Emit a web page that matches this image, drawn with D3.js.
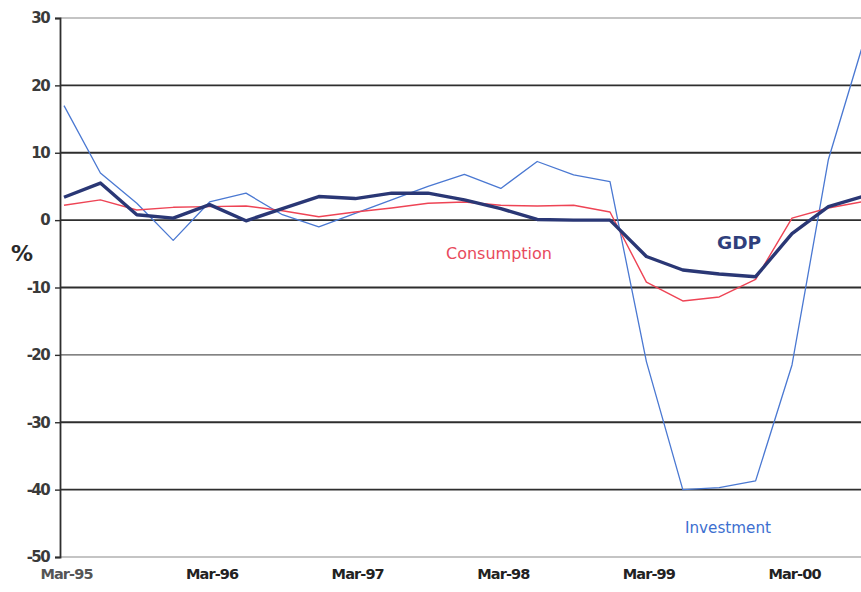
<!DOCTYPE html>
<html>
<head>
<meta charset="utf-8">
<script src="https://cdn.jsdelivr.net/npm/d3@7"></script>
<style>
  html, body { margin: 0; padding: 0; background: #fff; }
  svg { display: block; }
  text { font-family: "DejaVu Sans", Verdana, sans-serif; }
</style>
</head>
<body>
<svg id="chart" width="861" height="592"></svg>
<script>
// Quarterly growth, % change year on year
const quarters = [
  "Mar-95","Jun-95","Sep-95","Dec-95",
  "Mar-96","Jun-96","Sep-96","Dec-96",
  "Mar-97","Jun-97","Sep-97","Dec-97",
  "Mar-98","Jun-98","Sep-98","Dec-98",
  "Mar-99","Jun-99","Sep-99","Dec-99",
  "Mar-00","Jun-00","Sep-00"
];
const gdp = [3.4, 5.5, 0.8, 0.3, 2.3, -0.1, 1.7, 3.5, 3.2, 4.0, 4.0, 3.0,
             1.7, 0.1, 0.0, 0.0, -5.4, -7.4, -8.0, -8.4, -2.0, 2.0, 3.6];
const consumption = [2.2, 3.0, 1.5, 1.9, 2.0, 2.1, 1.4, 0.5, 1.2, 1.8, 2.5, 2.7,
                     2.2, 2.1, 2.2, 1.2, -9.2, -12.0, -11.4, -8.8, 0.3, 1.8, 2.8];
const investment = [17.0, 7.0, 2.5, -3.0, 2.7, 4.0, 0.8, -1.0, 1.0, 3.0, 5.0, 6.8,
                    4.7, 8.7, 6.7, 5.7, -21.0, -40.0, -39.7, -38.7, -21.5, 9.0, 27.0];
const yTicks = [30, 20, 10, 0, -10, -20, -30, -40, -50];
const xLabels = ["Mar-95", "Mar-96", "Mar-97", "Mar-98", "Mar-99", "Mar-00"];

const svg = d3.select("#chart");
const W = 861, H = 592;
const axisX = 60;

const x = d3.scalePoint().domain(quarters).range([64, 864.8]);
const y = d3.scaleLinear().domain([-50, 30]).range([557, 18]);

// horizontal gridlines
const gridStyle = v => {
  if (v === 30 || v === -50) return { c: "#8a8a8a", w: 1.2 };
  if (v === -20) return { c: "#5a5a5a", w: 1.4 };
  return { c: "#2e2e2e", w: 1.8 };
};
svg.append("g").selectAll("line").data(yTicks).join("line")
  .attr("x1", axisX).attr("x2", W)
  .attr("y1", d => y(d)).attr("y2", d => y(d))
  .attr("stroke", d => gridStyle(d).c)
  .attr("stroke-width", d => gridStyle(d).w);

// y axis with ticks and labels
const yAxis = d3.axisLeft(y).tickValues(yTicks).tickSize(5).tickPadding(6)
  .tickFormat(d => String(d));
const gy = svg.append("g").attr("transform", `translate(${axisX},0)`).call(yAxis);
gy.select(".domain").attr("stroke", "#2e2e2e").attr("stroke-width", 1.8);
gy.selectAll(".tick line").attr("stroke", "#2e2e2e").attr("stroke-width", 1.4);
gy.selectAll(".tick text")
  .attr("font-size", 15).attr("font-weight", "bold").attr("fill", "#3a3a3a")
  .attr("letter-spacing", "-1.6px");

// x axis labels (yearly)
const xAxis = d3.axisBottom(x).tickValues(xLabels).tickSize(0).tickPadding(0);
const gx = svg.append("g").attr("transform", "translate(2,569)").call(xAxis);
gx.select(".domain").remove();
gx.selectAll(".tick text")
  .attr("font-size", 14.5).attr("font-weight", "bold")
  .attr("fill", (d, i) => i === 0 ? "#555" : "#222")
  .attr("letter-spacing", "-0.9px");

// series lines
svg.append("clipPath").attr("id", "plot")
  .append("rect").attr("x", axisX).attr("y", 0).attr("width", W - axisX).attr("height", H);
const line = d3.line().x((d, i) => x(quarters[i])).y(d => y(d));
const plot = svg.append("g").attr("clip-path", "url(#plot)");

plot.append("path").datum(investment).attr("d", line)
  .attr("fill", "none").attr("stroke", "#4a78d2").attr("stroke-width", 1.3)
  .attr("stroke-linejoin", "round");
plot.append("path").datum(consumption).attr("d", line)
  .attr("fill", "none").attr("stroke", "#ee4455").attr("stroke-width", 1.4)
  .attr("stroke-linejoin", "round");
plot.append("path").datum(gdp).attr("d", line)
  .attr("fill", "none").attr("stroke", "#2a3775").attr("stroke-width", 3.4)
  .attr("stroke-linejoin", "round");

// annotations
svg.append("text").attr("x", 11).attr("y", 261).text("%")
  .attr("font-size", 22).attr("font-weight", "bold").attr("fill", "#2a2a2a")
  .attr("letter-spacing", "-1px");
svg.append("text").attr("x", 446).attr("y", 259).text("Consumption")
  .attr("font-size", 16).attr("fill", "#e84a5c");
svg.append("text").attr("x", 717).attr("y", 249).text("GDP")
  .attr("font-size", 18.5).attr("font-weight", "bold").attr("fill", "#2f3f7c");
svg.append("text").attr("x", 685).attr("y", 533).text("Investment")
  .attr("font-size", 15.2).attr("fill", "#3d6fd0");
</script>
</body>
</html>
